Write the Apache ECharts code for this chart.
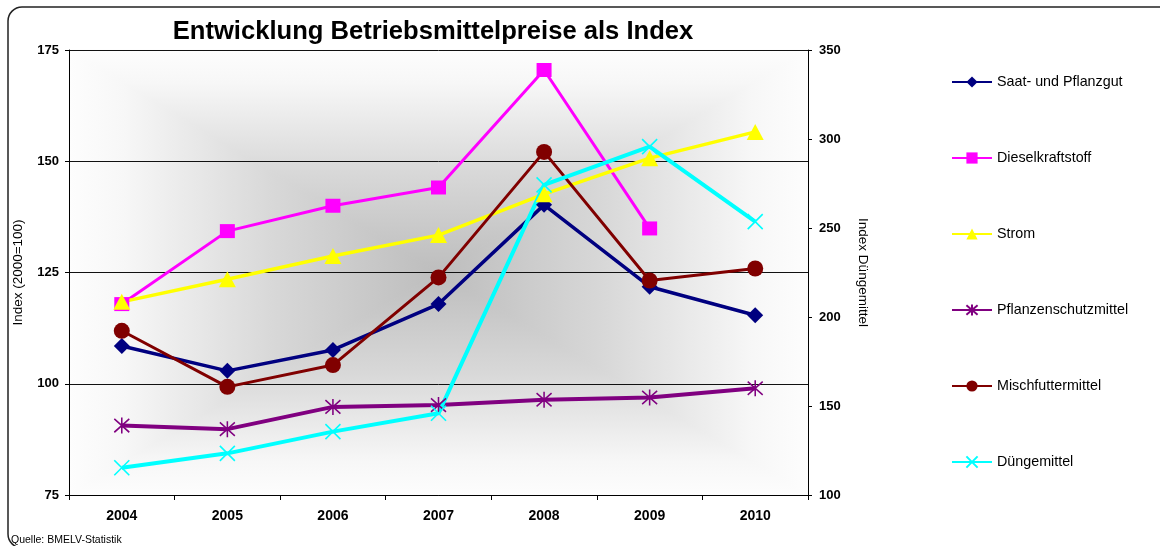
<!DOCTYPE html>
<html>
<head>
<meta charset="utf-8">
<script src="https://cdn.jsdelivr.net/npm/echarts@6/dist/echarts.min.js"></script>
<style>
html,body{margin:0;padding:0;background:#fff;}
#chart{width:1160px;height:546px;}
</style>
</head>
<body>
<div id="chart"></div>
<script>
// ---- data ----
const years = ['2004','2005','2006','2007','2008','2009','2010'];
const saat = [108.5, 102.9, 107.6, 117.9, 140.2, 121.8, 115.4];
const diesel = [117.9, 134.3, 140.0, 144.1, 170.5, 134.9, null];
const strom = [118.4, 123.5, 128.7, 133.4, 142.6, 150.7, 156.6];
const pflanzenschutz = [90.6, 89.8, 94.8, 95.2, 96.4, 96.9, 99.0];
const mischfutter = [111.9, 99.3, 104.2, 123.9, 152.1, 123.2, 125.9];
const duenge = [115.3, 123.4, 135.6, 145.9, 274.2, 295.7, 253.6];
const leftTicks = {min: 75, max: 175, interval: 25};
const rightTicks = {min: 100, max: 350, interval: 50};

const FONT = '"Liberation Sans", Arial, sans-serif';
const G = {left: 69, top: 50, right: 352, bottom: 51, W: 1160, H: 546};
const x0 = G.left, y0 = G.top, x1 = G.W - G.right, y1 = G.H - G.bottom;
const cx = (x0 + x1) / 2, cy = (y0 + y1) / 2;
const stops = [
  {offset: 0, color: '#fdfdfd'},
  {offset: 0.15, color: '#f7f7f7'},
  {offset: 0.55, color: '#d8d8d8'},
  {offset: 1, color: '#bdbdbd'}
];
function grad(a, b, c, d) { return new echarts.graphic.LinearGradient(a, b, c, d, stops); }
function tri(pts, g) {
  return {type: 'polygon', z: -10, silent: true, shape: {points: pts},
          style: {fill: g, stroke: g, lineWidth: 1}};
}

const xPath = 'path://M0,0L10,10M10,0L0,10';
const starPath = 'path://M0,0L10,10M10,0L0,10M5,-1L5,11';

function mk(name, data, color, symbol, size, width, yIdx, stroke) {
  return {
    name: name, type: 'line', data: data, yAxisIndex: yIdx,
    symbol: symbol, symbolSize: size, showSymbol: true,
    lineStyle: {color: color, width: width},
    itemStyle: stroke ? {color: color, borderColor: color, borderWidth: 1.6} : {color: color, borderWidth: 0},
    emphasis: {disabled: true}, animation: false, z: 3
  };
}

const chart = echarts.init(document.getElementById('chart'), null, {renderer: 'canvas'});
chart.setOption({
  backgroundColor: '#ffffff',
  animation: false,
  title: {
    text: 'Entwicklung Betriebsmittelpreise als Index',
    left: 428, top: 14, textAlign: 'center',
    textStyle: {fontFamily: FONT, fontSize: 25.6, fontWeight: 'bold', color: '#000'}
  },
  grid: {left: G.left, top: G.top, right: G.right, bottom: G.bottom, containLabel: false},
  legend: {
    orient: 'vertical', left: 946, top: 70,
    itemWidth: 40, itemHeight: 14, itemGap: 62,
    textStyle: {fontFamily: FONT, fontSize: 14.3, color: '#000'},
    data: ['Saat- und Pflanzgut','Dieselkraftstoff','Strom','Pflanzenschutzmittel','Mischfuttermittel','Düngemittel']
  },
  xAxis: {
    type: 'category', data: years, boundaryGap: true,
    axisLine: {lineStyle: {color: '#000', width: 1}},
    axisTick: {show: true, length: 5, lineStyle: {color: '#000'}},
    axisLabel: {fontFamily: FONT, fontSize: 14, fontWeight: 'bold', color: '#000', margin: 14},
    splitLine: {show: false}
  },
  yAxis: [
    {
      type: 'value', position: 'left', min: leftTicks.min, max: leftTicks.max, interval: leftTicks.interval,
      name: 'Index (2000=100)', nameLocation: 'middle', nameGap: 44,
      nameTextStyle: {fontFamily: FONT, fontSize: 13.5, color: '#000'},
      axisLine: {show: true, lineStyle: {color: '#000', width: 1}},
      axisTick: {show: true, length: 4, lineStyle: {color: '#000'}},
      axisLabel: {fontFamily: FONT, fontSize: 13, fontWeight: 'bold', color: '#000', margin: 10},
      splitLine: {show: true, lineStyle: {color: '#111', width: 1}}
    },
    {
      type: 'value', position: 'right', min: rightTicks.min, max: rightTicks.max, interval: rightTicks.interval,
      name: 'Index Düngemittel', nameLocation: 'middle', nameGap: 48, nameRotate: -90,
      nameTextStyle: {fontFamily: FONT, fontSize: 13.5, color: '#000'},
      axisLine: {show: true, lineStyle: {color: '#000', width: 1}},
      axisTick: {show: true, length: 4, lineStyle: {color: '#000'}},
      axisLabel: {fontFamily: FONT, fontSize: 13, fontWeight: 'bold', color: '#000', margin: 11},
      splitLine: {show: false}
    }
  ],
  graphic: [
    tri([[x0,y0],[x1,y0],[cx,cy]], grad(0,0,0,1)),
    tri([[x0,y1],[x1,y1],[cx,cy]], grad(0,1,0,0)),
    tri([[x0,y0],[x0,y1],[cx,cy]], grad(0,0,1,0)),
    tri([[x1,y0],[x1,y1],[cx,cy]], grad(1,0,0,0)),
    {type: 'rect', z: 10, silent: true, shape: {x: 8, y: 7, width: 1175, height: 541, r: 14}, style: {fill: 'none', stroke: '#222', lineWidth: 1.5}},
    {type: 'text', z: 11, silent: true, left: 11, top: 535, style: {text: 'Quelle: BMELV-Statistik', fontFamily: FONT, fontSize: 10.5, fill: '#000'}}
  ],
  series: [
    mk('Saat- und Pflanzgut', saat, '#000080', 'diamond', [16,16], 3.5, 0, false),
    mk('Dieselkraftstoff', diesel, '#ff00ff', 'rect', [15,14], 3, 0, false),
    mk('Strom', strom, '#ffff00', 'triangle', [17,16], 3.5, 0, false),
    mk('Pflanzenschutzmittel', pflanzenschutz, '#800080', starPath, [15,16], 4, 0, true),
    mk('Mischfuttermittel', mischfutter, '#800000', 'circle', [16,16], 3, 0, false),
    mk('Düngemittel', duenge, '#00ffff', xPath, [15,15], 4, 1, true)
  ]
});
</script>
</body>
</html>
